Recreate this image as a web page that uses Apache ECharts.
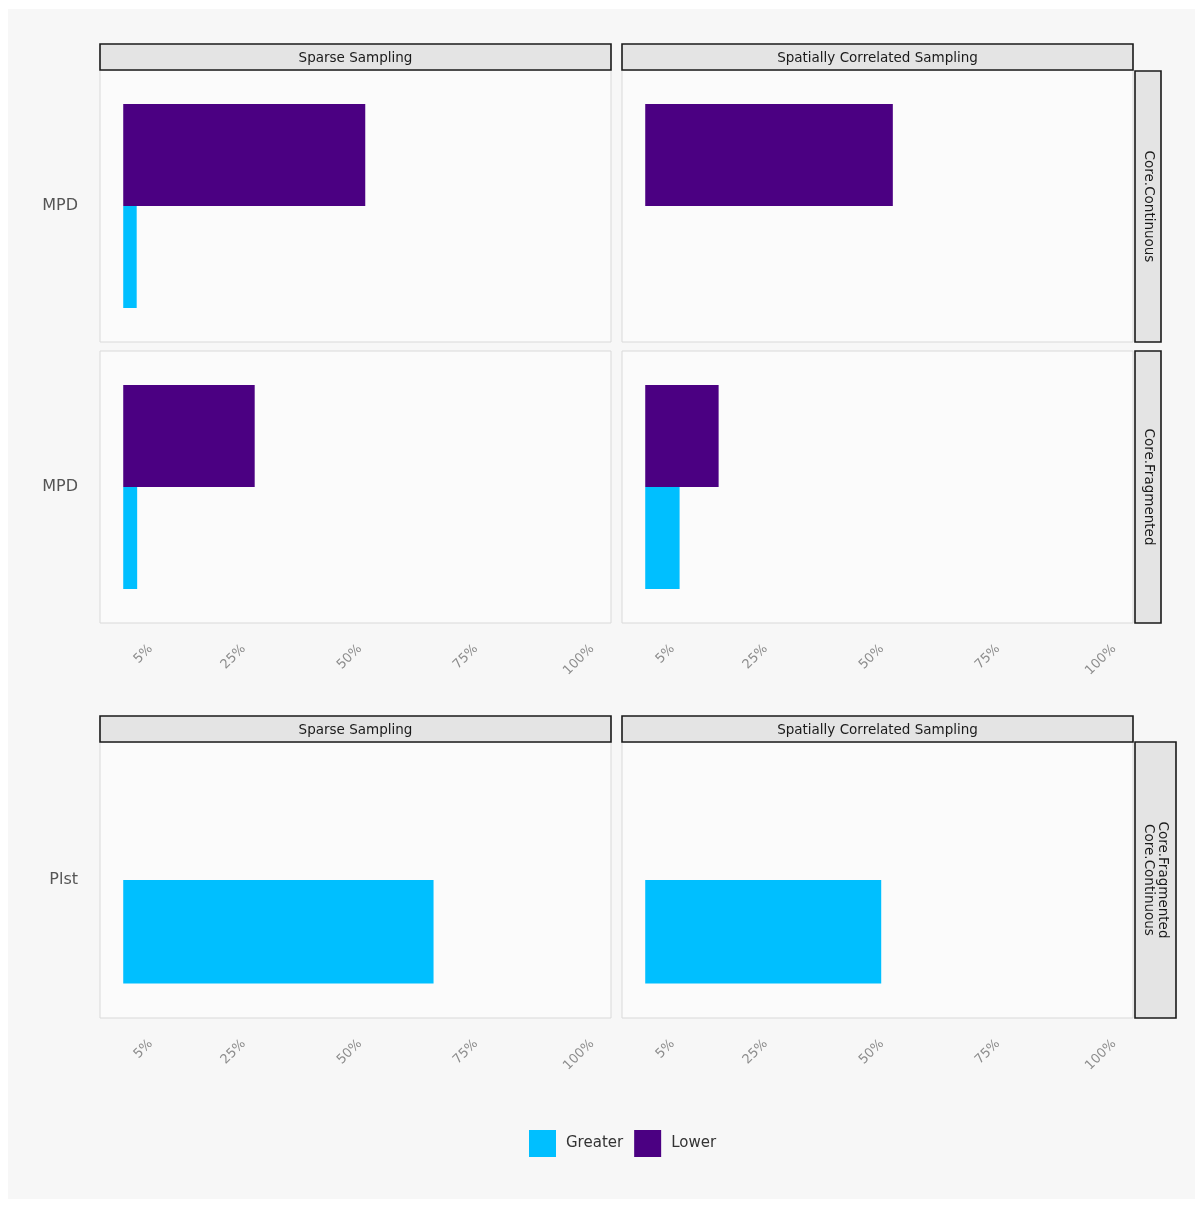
<!DOCTYPE html>
<html>
<head>
<meta charset="utf-8">
<style>
  html, body { margin: 0; padding: 0; background: #ffffff; }
  #chart { width: 1203px; height: 1207px; }
</style>
<script src="https://cdn.jsdelivr.net/npm/echarts@6/dist/echarts.min.js"></script>
</head>
<body>
<div id="chart"></div>
<script>
// Column facets (sampling design) and row facets (landscape configuration)
const samplingFacets = ['Sparse Sampling', 'Spatially Correlated Sampling'];
const rowFacets = ['Core.Continuous', 'Core.Fragmented', 'Core.Fragmented\nCore.Continuous'];
const metricsTop = ['MPD'];
const metricsBottom = ['Plst'];
const groups = ['Greater', 'Lower'];
const tickValues = [5, 25, 50, 75, 100];

// Share of cases (%) per sampling design: [Sparse, Spatially Correlated]
const mpdContinuousGreater = [2.9, null];
const mpdContinuousLower = [52.1, 53.3];
const mpdFragmentedGreater = [3.0, 7.4];
const mpdFragmentedLower = [28.3, 15.8];
const plstGreater = [66.8, 50.8];
const plstLower = [null, null];

const colors = { Greater: '#00BFFF', Lower: '#4B0082' };
const FONT = 'DejaVu Sans';

// panel rectangles
const colLeft = [100, 622];
const panelW = 511;
const rows = [
  { top: 70, height: 272, cats: metricsTop, g: mpdContinuousGreater, l: mpdContinuousLower, showX: false },
  { top: 351, height: 272, cats: metricsTop, g: mpdFragmentedGreater, l: mpdFragmentedLower, showX: true },
  { top: 742, height: 276, cats: metricsBottom, g: plstGreater, l: plstLower, showX: true }
];

const grids = [], xAxes = [], yAxes = [], series = [];
rows.forEach((r, ri) => {
  colLeft.forEach((left, ci) => {
    const idx = grids.length;
    grids.push({
      left: left, top: r.top, width: panelW, height: r.height,
      show: true, backgroundColor: '#fbfbfb', borderColor: '#d9d9d9', borderWidth: 1,
      containLabel: false
    });
    xAxes.push({
      type: 'value', gridIndex: idx, min: -5, max: 105,
      axisLine: { show: false }, axisTick: { show: false }, splitLine: { show: false },
      axisLabel: {
        show: r.showX, customValues: tickValues, rotate: 45, margin: 28,
        padding: [0, -6, 0, 0],
        formatter: v => v + '%', color: '#8c8c8c', fontSize: 13, fontFamily: FONT
      }
    });
    yAxes.push({
      type: 'category', gridIndex: idx, data: r.cats,
      axisLine: { show: false }, axisTick: { show: false }, splitLine: { show: false },
      axisLabel: { show: ci === 0, margin: 22, color: '#555555', fontSize: 16, fontFamily: FONT }
    });
    // within a category the first series sits on top
    series.push({
      name: 'Lower', type: 'bar', xAxisIndex: idx, yAxisIndex: idx,
      data: [r.l[ci]], itemStyle: { color: colors.Lower },
      barGap: '0%', barCategoryGap: '25%', silent: true
    });
    series.push({
      name: 'Greater', type: 'bar', xAxisIndex: idx, yAxisIndex: idx,
      data: [r.g[ci]], itemStyle: { color: colors.Greater },
      barGap: '0%', barCategoryGap: '25%', silent: true
    });
  });
});

// facet strips
const graphics = [
  { type: 'rect', shape: { x: 8, y: 9, width: 1187, height: 1190 }, style: { fill: '#f7f7f7' }, z: -10, silent: true }
];
function topStrip(x, y, label) {
  graphics.push({ type: 'rect', shape: { x: x, y: y, width: panelW, height: 26 },
    style: { fill: '#e4e4e4', stroke: '#1a1a1a', lineWidth: 1.6 }, z: 5 });
  graphics.push({ type: 'text', x: x + panelW / 2, y: y + 14, z: 6,
    style: { text: label, align: 'center', verticalAlign: 'middle', fill: '#1a1a1a', font: '13.5px ' + FONT } });
}
function sideStrip(y, h, w, label) {
  graphics.push({ type: 'rect', shape: { x: 1135, y: y, width: w, height: h },
    style: { fill: '#e4e4e4', stroke: '#1a1a1a', lineWidth: 1.6 }, z: 5 });
  graphics.push({ type: 'text', x: 1135 + w / 2, y: y + h / 2, rotation: -Math.PI / 2, z: 6,
    style: { text: label, align: 'center', verticalAlign: 'middle', fill: '#1a1a1a', font: '13.5px ' + FONT, lineHeight: 14 } });
}
samplingFacets.forEach((s, ci) => { topStrip(colLeft[ci], 44, s); topStrip(colLeft[ci], 716, s); });
sideStrip(71, 271, 26, rowFacets[0]);
sideStrip(351, 272, 26, rowFacets[1]);
sideStrip(742, 276, 41, rowFacets[2]);

const chart = echarts.init(document.getElementById('chart'), null, { renderer: 'canvas' });
chart.setOption({
  backgroundColor: '#ffffff',
  animation: false,
  grid: grids,
  xAxis: xAxes,
  yAxis: yAxes,
  series: series,
  legend: {
    data: groups, left: 524, top: 1125, orient: 'horizontal',
    icon: 'rect', itemWidth: 27, itemHeight: 27, itemGap: 11,
    textStyle: { color: '#333333', fontSize: 15, fontFamily: FONT, padding: [0, 0, 0, 5] },
    selectedMode: false
  },
  graphic: graphics
});
</script>
</body>
</html>
